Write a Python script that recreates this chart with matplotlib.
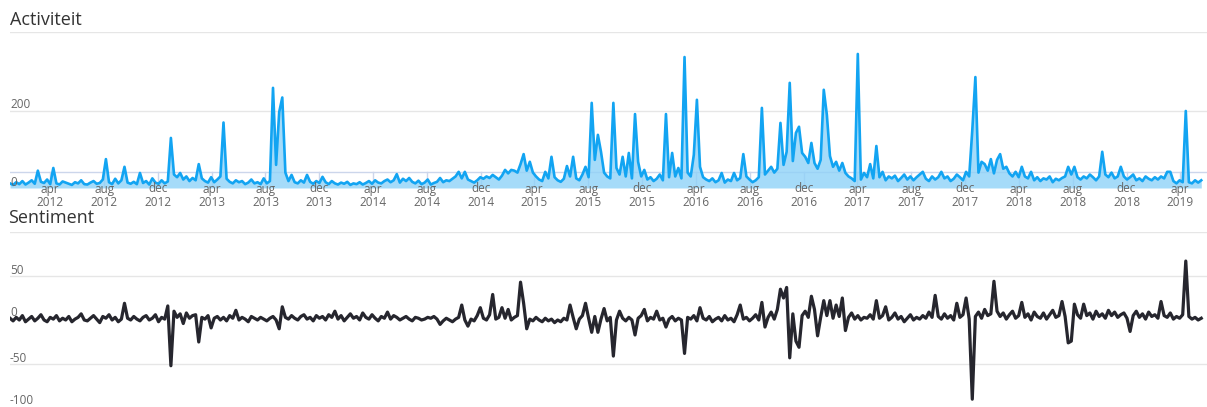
import matplotlib
matplotlib.use("Agg")
import matplotlib.pyplot as plt
import matplotlib.transforms as mtransforms
import numpy as np

plt.rcParams['font.family'] = ['Open Sans', 'DejaVu Sans']

# weekly values, first week starts 2012-01-01
activity = [
    12, 8, 15, 10, 18, 9, 14, 20, 11, 45, 16, 13, 22, 10, 52, 12, 9, 17, 14, 11,
    8, 15, 12, 20, 10, 9, 14, 18, 11, 13, 22, 75, 15, 10, 24, 12, 20, 55, 14, 11,
    16, 10, 39, 13, 18, 9, 25, 14, 11, 20, 12, 17, 130, 35, 28, 39, 22, 30, 18, 26,
    20, 62, 25, 18, 14, 28, 15, 22, 30, 170, 24, 16, 12, 20, 15, 18, 10, 14, 22, 12,
    15, 10, 25, 12, 18, 260, 60, 197, 235, 40, 18, 34, 15, 12, 20, 14, 34, 16, 11, 18,
    13, 29, 15, 10, 18, 12, 9, 14, 11, 16, 8, 12, 10, 15, 9, 13, 18, 11, 20, 14,
    12, 18, 22, 15, 20, 36, 14, 24, 18, 26, 16, 12, 19, 10, 14, 22, 9, 13, 16, 26,
    15, 20, 18, 24, 30, 42, 25, 42, 22, 18, 14, 20, 28, 24, 30, 26, 34, 28, 22, 32,
    47, 38, 47, 45, 40, 62, 88, 45, 68, 40, 30, 22, 18, 42, 25, 81, 28, 20, 16, 24,
    57, 30, 81, 25, 20, 35, 55, 28, 221, 73, 138, 94, 40, 30, 25, 221, 52, 35, 81, 30,
    91, 25, 192, 68, 30, 47, 22, 28, 18, 24, 35, 20, 192, 28, 91, 30, 52, 25, 340, 40,
    30, 86, 229, 55, 28, 22, 18, 25, 15, 20, 39, 14, 22, 18, 39, 20, 26, 88, 30, 22,
    15, 20, 28, 208, 35, 45, 55, 40, 50, 169, 60, 94, 273, 70, 143, 159, 91, 81, 65, 117,
    65, 50, 73, 255, 190, 83, 55, 68, 45, 65, 39, 30, 25, 18, 348, 22, 39, 28, 62, 25,
    109, 28, 42, 20, 30, 25, 32, 18, 26, 35, 22, 30, 20, 28, 35, 42, 24, 18, 30, 22,
    28, 42, 25, 30, 18, 24, 35, 28, 20, 42, 30, 150, 288, 40, 68, 62, 45, 75, 38, 73,
    88, 50, 55, 38, 30, 42, 28, 55, 30, 25, 42, 20, 28, 18, 25, 22, 30, 15, 24, 20,
    26, 30, 55, 35, 55, 28, 22, 30, 25, 35, 28, 20, 30, 94, 35, 28, 40, 25, 30, 55,
    30, 22, 28, 35, 20, 25, 18, 30, 24, 20, 28, 22, 30, 25, 42, 42, 18, 12, 20, 15,
    200, 15, 12, 20, 14, 20,
]

sentiment = [
    2, -1, 3, 0, 5, -2, 1, 4, -1, 2, 6, 0, -2, 3, 1, 5, -1, 2, 0, 4,
    -2, 1, 3, 7, 0, -1, 2, 5, 1, -3, 4, 2, 6, 0, 3, -2, 1, 19, 2, 0,
    4, 1, -1, 3, 5, 0, 2, 6, -2, 3, 1, 16, -52, 10, 3, 7, -4, 8, 2, 5,
    6, -25, 3, 1, 5, -9, 2, 4, 0, 3, -1, 5, 2, 11, 0, 3, 1, -2, 4, 2,
    0, 3, 1, -1, 2, 4, 0, -10, 15, 3, 1, 5, 2, 0, 4, 6, 1, 3, -1, 5,
    2, 4, 0, 6, 3, 10, 1, 5, -1, 3, 7, 2, 4, 0, 8, 3, 1, 6, 2, -1,
    4, 2, 9, 1, 5, 3, 0, 2, 4, 1, -1, 3, 2, 0, 1, 3, 2, 4, 1, -5,
    -1, 2, 0, -2, 1, 3, 17, 0, -7, 1, -1, 5, 14, 2, 0, 6, 29, 1, 3, 14,
    2, 12, 0, 3, 5, 43, 19, -10, 1, -1, 3, 0, -2, 2, -1, 1, -3, 0, -2, 2,
    0, 17, 3, -10, 1, 5, 19, 2, -14, 4, -14, 1, 13, -1, 3, -41, 0, 10, 2, -1,
    3, 0, -17, 2, 5, 12, -1, 3, 1, 10, 0, 2, -8, 1, 4, -1, 2, 0, -38, 3,
    1, 5, -1, 14, 2, 0, 4, -2, 1, 3, -1, 5, 0, 2, -2, 6, 17, 1, 3, -1,
    2, 6, 0, 20, -8, 3, 9, 1, 12, 35, 25, 37, -43, 7, -24, -31, 5, 10, 3, 27,
    12, -18, 3, 22, 5, 22, 2, 17, 4, 25, -12, 3, 8, 1, 5, 0, 3, 2, 6, 1,
    22, 2, 5, 15, 0, 3, 8, 1, 4, -2, 2, 6, 0, 3, 1, 5, 2, 9, 3, 28,
    4, 1, 7, 2, 5, 0, 19, 3, 6, 25, 1, -90, 4, 9, 2, 12, 5, 7, 44, 10,
    4, 8, 1, 6, 10, 2, 5, 20, 3, 7, 0, 9, 4, 2, 8, 1, 6, 11, 3, 5,
    21, 4, -26, -24, 18, 6, 2, 18, 5, 8, 1, 10, 4, 7, 2, 11, 5, 9, 3, 6,
    8, 2, -13, 5, 10, 3, 7, 1, 9, 4, 6, 2, 21, 5, 3, 8, 1, 4, 2, 6,
    67, 4, 1, 3, 0, 2,
]

tick_dates = ['2012-04-01', '2012-08-01', '2012-12-01', '2013-04-01', '2013-08-01', '2013-12-01',
              '2014-04-01', '2014-08-01', '2014-12-01', '2015-04-01', '2015-08-01', '2015-12-01',
              '2016-04-01', '2016-08-01', '2016-12-01', '2017-04-01', '2017-08-01', '2017-12-01',
              '2018-04-01', '2018-08-01', '2018-12-01', '2019-04-01']
tick_labels = ['apr\n2012', 'aug\n2012', 'dec\n2012', 'apr\n2013', 'aug\n2013', 'dec\n2013',
               'apr\n2014', 'aug\n2014', 'dec\n2014', 'apr\n2015', 'aug\n2015', 'dec\n2015',
               'apr\n2016', 'aug\n2016', 'dec\n2016', 'apr\n2017', 'aug\n2017', 'dec\n2017',
               'apr\n2018', 'aug\n2018', 'dec\n2018', 'apr\n2019']

dates = np.datetime64('2012-01-01') + np.arange(len(activity)) * np.timedelta64(7, 'D')
ticks = np.array(tick_dates, dtype='datetime64[D]')
x0, x1 = np.datetime64('2012-01-01'), np.datetime64('2019-06-01')

W, H = 1207, 407
fig = plt.figure(figsize=(W / 100, H / 100), dpi=100)

def px_axes(left, top, right, bottom):
    return fig.add_axes([left / W, (H - bottom) / H, (right - left) / W, (bottom - top) / H])

grid_c = '#e6e6e6'
label_c = '#666666'

# ---- Activiteit ----
ax1 = px_axes(10, 32, 1207, 188)
ax1.set_xlim(x0, x1)
ax1.set_ylim(0, 405)
for v in [200, 405]:
    ax1.axhline(v, color=grid_c, lw=1, zorder=0)
ax1.axhline(41.5, color='#ccd6eb', lw=1, zorder=0)
for t in ticks:
    ax1.plot([t, t], [0, 41.5], color='#ccd6eb', lw=1, zorder=0)
ax1.fill_between(dates, activity, color='#8fd2f8', alpha=0.8, lw=0, zorder=2)
ax1.plot(dates, activity, color='#12a4f2', lw=1.9, zorder=3)
ax1.axis('off')

fig.text(10 / W, 1 - 20 / H, 'Activiteit', fontsize=13, color='#333333', va='center', ha='left')
fig.text(10 / W, 1 - 104 / H, '200', fontsize=8.5, color=label_c, va='center', ha='left')
fig.text(10 / W, 1 - 182 / H, '0', fontsize=8.5, color=label_c, va='center', ha='left')

trans = mtransforms.blended_transform_factory(ax1.transData, fig.transFigure)
for t, lab in zip(ticks, tick_labels):
    m, y = lab.split('\n')
    ax1.text(t, 1 - 189 / H, m, transform=trans, fontsize=8.5, color=label_c,
             ha='center', va='center', zorder=5, clip_on=False)
    ax1.text(t, 1 - 202 / H, y, transform=trans, fontsize=8.5, color=label_c,
             ha='center', va='center', zorder=5, clip_on=False)

# ---- Sentiment ----
ax2 = px_axes(10, 232, 1207, 408)
ax2.set_xlim(x0, x1)
ax2.set_ylim(-100, 100)
for v in [100, 50, -50, -100]:
    ax2.axhline(v, color=grid_c, lw=1, zorder=0)
ax2.plot(dates, sentiment, color='#26262e', lw=2.3, zorder=3)
ax2.axis('off')

fig.text(8 / W, 1 - 218 / H, 'Sentiment', fontsize=13, color='#333333', va='center', ha='left')
for v, yp in [('50', 270), ('0', 313), ('-50', 358), ('-100', 401)]:
    fig.text(10 / W, 1 - yp / H, v, fontsize=8.5, color=label_c, va='center', ha='left')

fig.savefig('out.png', dpi=100)
